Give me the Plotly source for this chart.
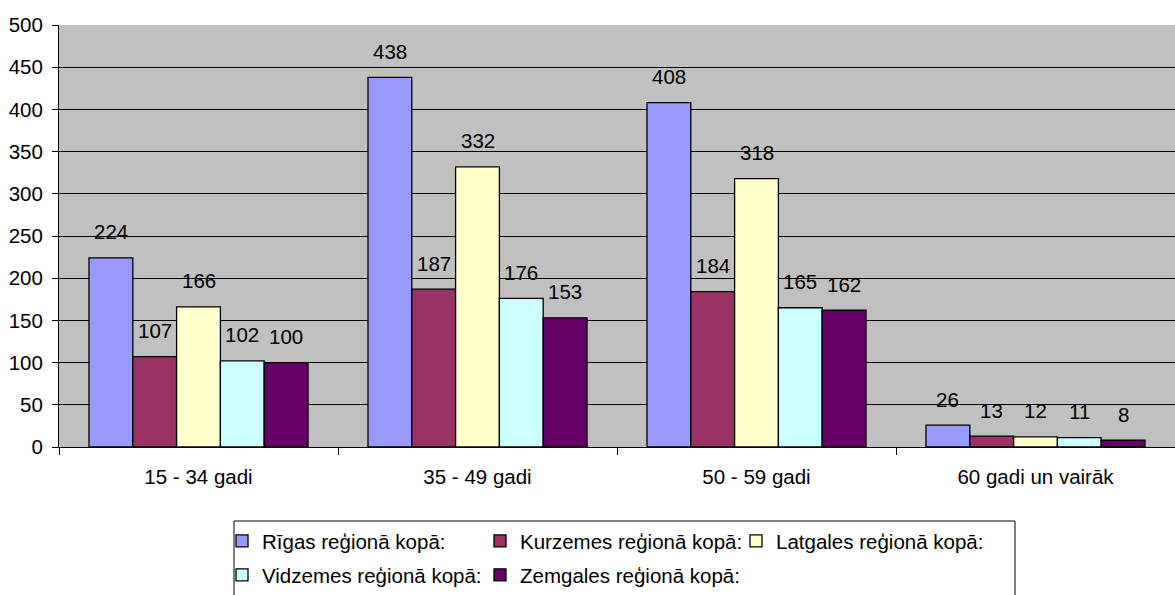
import plotly.graph_objects as go

categories = ["15 - 34 gadi", "35 - 49 gadi", "50 - 59 gadi", "60 gadi un vairāk"]
series_names = ["Rīgas reģionā kopā:", "Kurzemes reģionā kopā:", "Latgales reģionā kopā:",
                "Vidzemes reģionā kopā:", "Zemgales reģionā kopā:"]
rigas = [224, 438, 408, 26]
kurzemes = [107, 187, 184, 13]
latgales = [166, 332, 318, 12]
vidzemes = [102, 176, 165, 11]
zemgales = [100, 153, 162, 8]
colors = ["#9999FF", "#993366", "#FFFFCC", "#CCFFFF", "#660066"]
y_ticks = [0, 50, 100, 150, 200, 250, 300, 350, 400, 450, 500]

series_values = [rigas, kurzemes, latgales, vidzemes, zemgales]

W, H = 1175, 595
ML, MR, MT, MB = 59, 0, 25, 148
PW, PH = W - ML - MR, H - MT - MB
BARGAP = 0.215
FONT = "Liberation Sans, Arial, sans-serif"
FS = 20.5


def px_x(px):
    return (px - ML) / PW


def px_y(py):
    return (H - MB - py) / PH


fig = go.Figure()
n = len(series_names)
for i, (name, vals) in enumerate(zip(series_names, series_values)):
    fig.add_trace(go.Bar(
        x=categories, y=vals, name=name,
        marker=dict(color=colors[i], line=dict(color="black", width=1.3)),
        legend=f"legend{i + 2}",
    ))

# value labels above the bars
bw = (1 - BARGAP) / n
annotations = []
for i, vals in enumerate(series_values):
    for j, v in enumerate(vals):
        annotations.append(dict(
            x=j + (i - (n - 1) / 2) * bw, y=v, xref="x", yref="y",
            text=str(v), showarrow=False, yanchor="middle", yshift=26,
            font=dict(family=FONT, size=FS, color="black"),
        ))

# legend layout (one legend per entry, positioned in a 3+2 grid)
legend_cols = [222, 480, 736, 222, 480]
legend_rows = [541, 541, 541, 575, 575]
legends = {}
for i in range(n):
    key = f"legend{i + 2}"
    legends[key] = dict(
        x=px_x(legend_cols[i]), y=px_y(legend_rows[i]), xanchor="left", yanchor="middle",
        orientation="h", bgcolor="rgba(0,0,0,0)", borderwidth=0,
        font=dict(family=FONT, size=FS, color="black"),
    )

fig.update_layout(
    width=W, height=H,
    margin=dict(l=ML, r=MR, t=MT, b=MB),
    paper_bgcolor="white", plot_bgcolor="#C0C0C0",
    barmode="group", bargap=BARGAP, bargroupgap=0,
    font=dict(family=FONT, size=FS, color="black"),
    annotations=annotations,
    showlegend=True,
    shapes=[dict(type="rect", xref="paper", yref="paper",
                 x0=px_x(234), x1=px_x(1015), y0=px_y(521), y1=px_y(610),
                 line=dict(color="black", width=1), fillcolor="white", layer="below")],
    xaxis=dict(
        type="category", range=[-0.5, len(categories) - 0.5],
        showline=True, linecolor="black", linewidth=1,
        ticks="outside", tickson="boundaries", ticklen=7, tickcolor="black",
        showgrid=False, ticklabelstandoff=11,
        tickfont=dict(family=FONT, size=FS, color="black"),
    ),
    yaxis=dict(
        range=[0, 500], tickvals=y_ticks,
        showline=True, linecolor="black", linewidth=1,
        ticks="outside", ticklen=6, tickcolor="black",
        showgrid=True, gridcolor="black", gridwidth=1, zeroline=False,
        ticklabelstandoff=5,
        tickfont=dict(family=FONT, size=FS, color="black"),
    ),
    **legends,
)

fig.write_html("out.html")
